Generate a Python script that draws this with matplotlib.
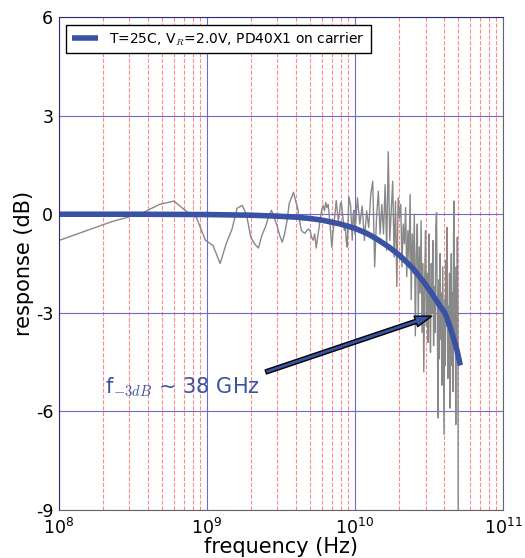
import numpy as np
import matplotlib
matplotlib.use('Agg')
import matplotlib.pyplot as plt
from matplotlib.ticker import FixedLocator, LogLocator, NullFormatter

plt.rcParams['mathtext.fontset'] = 'cm'
plt.rcParams['axes.unicode_minus'] = False

meas_freq_ghz = [0.10, 0.23, 0.36, 0.48, 0.60, 0.72, 0.85, 0.98, 1.10, 1.23,
                 1.35, 1.48, 1.60, 1.73, 1.85, 1.98, 2.10, 2.23, 2.35, 2.48,
                 2.60, 2.73, 2.85, 2.98, 3.10, 3.23, 3.35, 3.48, 3.60, 3.73,
                 3.85, 3.98, 4.10, 4.23, 4.35, 4.48, 4.60, 4.73, 4.85, 4.98,
                 5.10, 5.23, 5.35, 5.48, 5.60, 5.73, 5.85, 5.98, 6.10, 6.23,
                 6.35, 6.48, 6.60, 6.73, 6.85, 6.98, 7.10, 7.23, 7.35, 7.48,
                 7.60, 7.73, 7.85, 7.98, 8.10, 8.23, 8.35, 8.48, 8.60, 8.73,
                 8.85, 8.98, 9.10, 9.23, 9.35, 9.48, 9.60, 9.73, 9.85,
                 10.0, 10.4, 10.8, 11.2, 11.6, 12.0, 12.4, 12.8, 13.2, 13.6,
                 14.0, 14.4, 14.8, 15.2, 15.6, 16.0, 16.4, 16.8, 17.2, 17.6,
                 18.0, 18.4, 18.8, 19.2, 19.6, 20.0, 20.4, 20.8, 21.2, 21.6,
                 22.0, 22.4, 22.8, 23.2, 23.6, 24.0, 24.4, 24.8, 25.2, 25.6,
                 26.0, 26.4, 26.8, 27.2, 27.6, 28.0, 28.4, 28.8, 29.2, 29.6,
                 30.0, 30.4, 30.8, 31.2, 31.6, 32.0, 32.4, 32.8, 33.2, 33.6,
                 34.0, 34.4, 34.8, 35.2, 35.6, 36.0, 36.4, 36.8, 37.2, 37.6,
                 38.0, 38.4, 38.8, 39.2, 39.6, 40.0, 40.4, 40.8, 41.2, 41.6,
                 42.0, 42.4, 42.8, 43.2, 43.6, 44.0, 44.4, 44.8, 45.2, 45.6,
                 46.0, 46.4, 46.8, 47.2, 47.6, 48.0, 48.4, 48.8, 49.2, 49.6,
                 50.0]
meas_resp_db = [-0.80, -0.22, 0.02, 0.30, 0.40, 0.10, -0.10, -0.80, -0.95, -1.50,
                -0.90, -0.45, 0.18, 0.27, 0.00, -0.70, -0.90, -1.03, -0.65, -0.40,
                -0.10, 0.12, -0.10, -0.35, -0.64, -0.85, -0.60, -0.20, 0.33, 0.50,
                0.67, 0.40, 0.20, -0.20, -0.49, -0.55, -0.58, -0.50, -0.45, -0.49,
                -0.70, -0.79, -0.60, -1.03, -0.70, -0.40, -0.10, 0.15, 0.27, 0.10,
                0.36, 0.20, 0.30, -0.12, -0.50, -1.00, -0.60, -0.27, 0.05, 0.42,
                0.10, -0.20, 0.00, 0.30, 0.36, 0.05, -0.20, -0.49, -0.30, -0.80,
                -1.00, -0.30, 0.52, 0.40, 0.27, -0.30, -0.79, 0.00, 0.12,
                -0.60, 0.50, -0.30, 0.25, -0.80, 0.10, -0.40, 0.60, 1.00, -1.60,
                -0.10, 0.70, -0.60, 0.30, -0.60, 0.90, -1.10, 1.90, -0.80, 0.10,
                1.00, -1.30, 0.40, -2.20, 0.50, -0.10, 0.30, -1.60, -0.30, -0.90,
                0.20, -1.90, -0.50, -1.40, 0.60, -2.60, -0.60, -1.80, 0.00, -3.70,
                -1.20, -0.30, -3.20, -1.00, -2.40, -0.20, -3.60, -1.50, -4.80, -2.00,
                -0.50, -3.40, -1.80, -3.90, -0.60, -2.80, -4.20, -1.50, -3.00, -0.80,
                -4.00, -2.20, -3.60, -0.40, 0.05, -2.80, -6.20, -2.00, -4.40, -1.20,
                -3.80, -2.40, -5.20, -1.60, -4.00, -6.70, -2.60, -4.60, -1.40, -3.40,
                -0.40, -5.00, -2.80, -4.20, -1.80, -5.90, -3.00, -1.20, -4.60, -2.40,
                -5.40, -0.60, 0.40, -3.80, -2.00, -6.40, -1.60, -4.40, -0.70, -3.20,
                -12.0]

# fitted response curve (GHz, dB)
fit_freq_ghz = [0.1, 0.3, 1.0, 2.0, 3.0, 4.0, 5.0, 6.0, 8.0, 10.0, 12.0, 14.0,
                17.0, 20.0, 22.4, 25.0, 29.0, 33.0, 37.0, 40.5, 43.0, 46.0, 49.0, 51.5]
fit_resp_db = [0.0, 0.0, -0.01, -0.03, -0.06, -0.09, -0.13, -0.18, -0.30, -0.43, -0.58, -0.75,
               -1.00, -1.25, -1.46, -1.68, -2.05, -2.40, -2.75, -3.00, -3.30, -3.72, -4.15, -4.60]

y_ticks = [6, 3, 0, -3, -6, -9]
x_ticks = [1e8, 1e9, 1e10, 1e11]
x_tick_labels = [r'$\mathregular{10^{8}}$', r'$\mathregular{10^{9}}$',
                 r'$\mathregular{10^{10}}$', r'$\mathregular{10^{11}}$']

blue = '#3a52a4'

fig = plt.figure(figsize=(5.25, 5.58), dpi=100)
ax = fig.add_axes([0.112, 0.086, 0.846, 0.8835])

ax.plot(np.array(meas_freq_ghz) * 1e9, meas_resp_db, color='#888888', linewidth=1.0)
ax.plot(np.array(fit_freq_ghz) * 1e9, fit_resp_db, color=blue, linewidth=4,
        label=r'T=25C, V$_R$=2.0V, PD40X1 on carrier', solid_capstyle='butt')

ax.set_xscale('log')
ax.set_xlim(1e8, 1e11)
ax.set_ylim(-9, 6)
ax.xaxis.set_major_locator(FixedLocator(x_ticks))
ax.set_xticklabels(x_tick_labels)
ax.xaxis.set_minor_locator(LogLocator(base=10, subs=range(2, 10), numticks=20))
ax.xaxis.set_minor_formatter(NullFormatter())
ax.set_yticks(y_ticks)
ax.set_yticklabels([str(v) for v in y_ticks])

ax.grid(True, which='major', color='#6a6ad0', linestyle='-', linewidth=0.8)
ax.grid(True, which='minor', axis='x', color='#ff8a8a', linestyle='--', linewidth=0.8)
ax.set_axisbelow(True)

ax.tick_params(axis='both', which='major', labelsize=12.5, direction='in', length=0)
ax.tick_params(axis='x', which='major', pad=6)
ax.tick_params(axis='y', which='major', pad=4)
ax.tick_params(axis='x', which='minor', length=0)
for side in ['left', 'top']:
    ax.spines[side].set_color('#2c2c70')
for side in ['right', 'bottom']:
    ax.spines[side].set_color('#666666')

ax.set_xlabel('frequency (Hz)', fontsize=15, labelpad=-1)
ax.set_ylabel('response (dB)', fontsize=15, labelpad=1)

ax.annotate('', xy=(3.3e10, -3.1), xytext=(2.5e9, -4.8),
            arrowprops=dict(facecolor=blue, edgecolor='black', width=3,
                            headwidth=8, headlength=12, shrink=0, linewidth=1))
ax.text(2.05e8, -5.25, r'f$_{-3dB}$ ~ 38 GHz', color=blue, fontsize=15,
        va='center', ha='left')

leg = ax.legend(loc='upper left', fontsize=10, fancybox=False, framealpha=1,
                handlelength=1.9, borderaxespad=0.55)
leg.get_frame().set_edgecolor('black')

fig.savefig('out.png', dpi=100)
